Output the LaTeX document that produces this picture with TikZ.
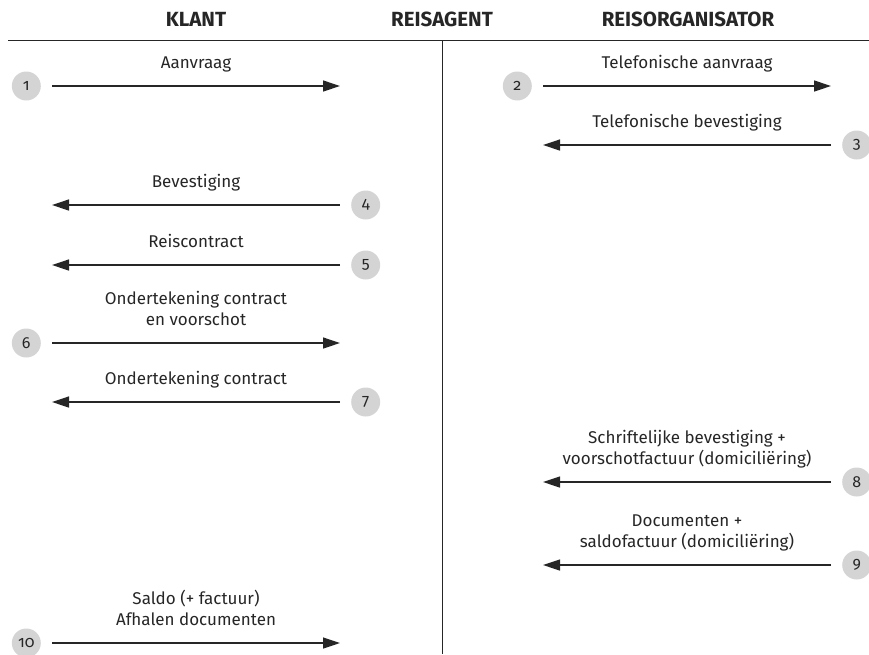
\documentclass[tikz,border=0pt]{standalone}
\usepackage{fontspec}
\setmainfont{Fira Sans}
\newfontfamily\numfont[Numbers=OldStyle]{Fira Sans}
\usetikzlibrary{positioning, arrows.meta}

\definecolor{stepgray}{HTML}{D4D4D4}
\definecolor{inkgray}{HTML}{262626}

\begin{document}
\begin{tikzpicture}[
  x=1pt, y=-1pt,
  node distance=11pt,
  header/.style={font=\fontsize{20.5}{22}\selectfont\bfseries, text=inkgray},
  numdot/.style={circle, fill=stepgray, minimum size=29pt, inner sep=0pt, font=\fontsize{16}{18}\selectfont\numfont, text=inkgray},
  msglabel/.style={font=\fontsize{17}{20.5}\selectfont, text=inkgray, align=center, above=17pt, inner sep=0pt, text depth=0pt},
  msg/.style={line width=1.3pt, draw=inkgray, -{Triangle[length=17pt, width=11pt]}}
]
\useasboundingbox (0,0) rectangle (869,654);

% Headers and lane lines
\node[header] (klant) at (196,19) {KLANT};
\node[header] (agent) at (442,19) {REISAGENT};
\node[header] (org) at (688,19) {REISORGANISATOR};
\coordinate (topL) at (8,40);
\coordinate (topR) at (869,40);
\coordinate (midT) at (442,40);
\coordinate (midB) at (442,654);
\draw[line width=1pt, inkgray] (topL) -- (topR);
\draw[line width=1pt, inkgray] (midT) -- (midB);

% Arrow end points (left lane: 52--340, right lane: 543--831)
\foreach \k/\y in {1/86, 6/343, 10/643}{
  \coordinate (s\k) at (52,\y);
  \coordinate (e\k) at (340,\y);
}
\foreach \k/\y in {4/205, 5/265, 7/402}{
  \coordinate (s\k) at (340,\y);
  \coordinate (e\k) at (52,\y);
}
\coordinate (s2) at (543,86);
\coordinate (e2) at (831,86);
\foreach \k/\y in {3/145, 8/482, 9/565}{
  \coordinate (s\k) at (831,\y);
  \coordinate (e\k) at (543,\y);
}

% Step numbers
\node[numdot, left=of s1] (n1) {1};
\node[numdot, left=of s2] (n2) {2};
\node[numdot, right=of s3] (n3) {3};
\node[numdot, right=of s4] (n4) {4};
\node[numdot, right=of s5] (n5) {5};
\node[numdot, left=of s6] (n6) {6};
\node[numdot, right=of s7] (n7) {7};
\node[numdot, right=of s8] (n8) {8};
\node[numdot, right=of s9] (n9) {9};
\node[numdot, left=of s10] (n10) {10};

% Messages
\draw[msg] (s1) -- node[msglabel] (m1) {Aanvraag} (e1);
\draw[msg] (s2) -- node[msglabel] (m2) {Telefonische aanvraag} (e2);
\draw[msg] (s3) -- node[msglabel] (m3) {Telefonische bevestiging} (e3);
\draw[msg] (s4) -- node[msglabel] (m4) {Bevestiging} (e4);
\draw[msg] (s5) -- node[msglabel] (m5) {Reiscontract} (e5);
\draw[msg] (s6) -- node[msglabel] (m6) {Ondertekening contract\\en voorschot} (e6);
\draw[msg] (s7) -- node[msglabel] (m7) {Ondertekening contract} (e7);
\draw[msg] (s8) -- node[msglabel] (m8) {Schriftelijke bevestiging +\\voorschotfactuur (domiciliëring)} (e8);
\draw[msg] (s9) -- node[msglabel] (m9) {Documenten +\\saldofactuur (domiciliëring)} (e9);
\draw[msg] (s10) -- node[msglabel] (m10) {Saldo (+ factuur)\\Afhalen documenten} (e10);

\end{tikzpicture}
\end{document}
